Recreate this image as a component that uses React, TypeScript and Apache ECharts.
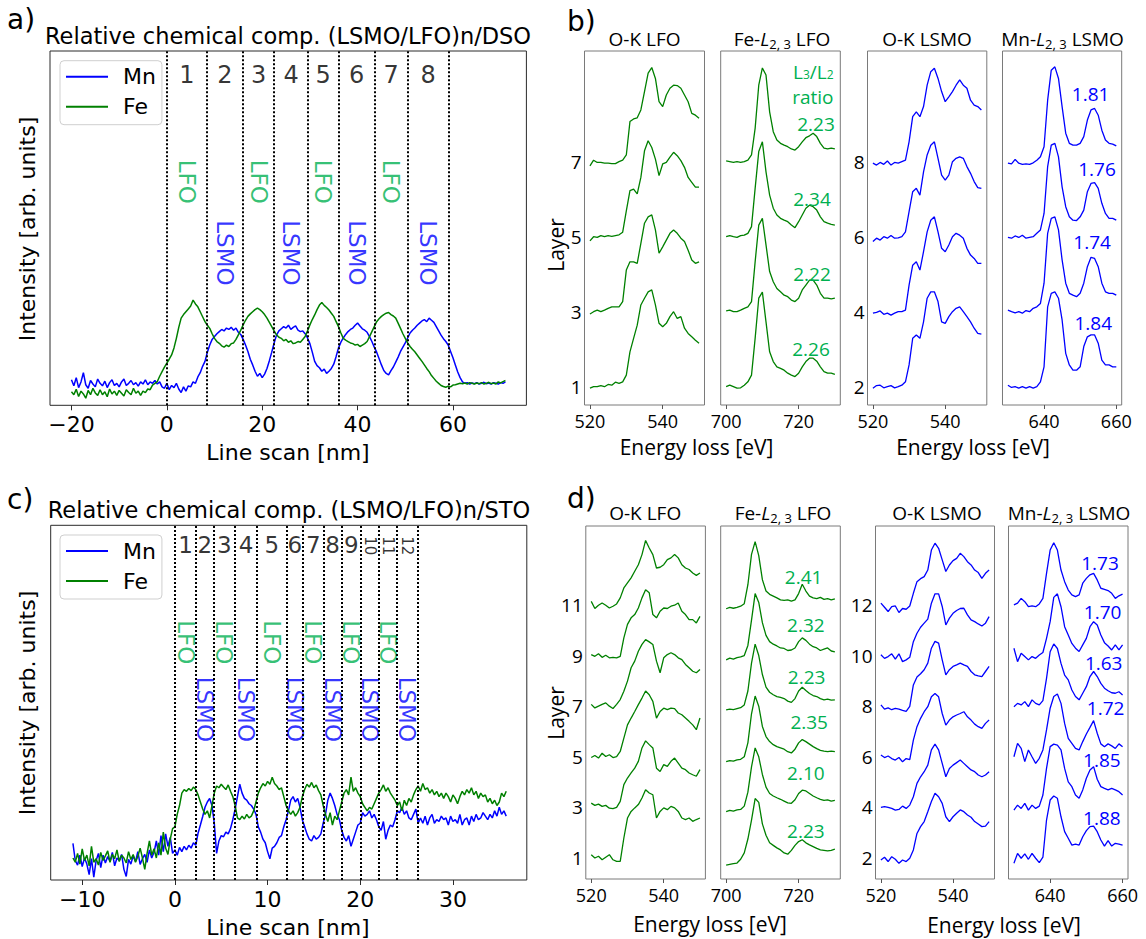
import React, { useEffect, useRef } from "react";
import * as echarts from "echarts";

// ---------- a) line scan (LSMO/LFO)n/DSO ----------
const aScanStart = -20;
const aScanStep = 0.5;
const aMn = [
  0.72, 0.55, 0.78, 0.5, 0.66, 0.92, 0.58, 0.48, 0.7, 0.6,
  0.52, 0.74, 0.62, 0.55, 0.68, 0.5, 0.64, 0.72, 0.56, 0.62,
  0.52, 0.66, 0.74, 0.56, 0.62, 0.7, 0.58, 0.64, 0.54, 0.66,
  0.6, 0.72, 0.58, 0.66, 0.62, 0.7, 0.6, 0.66, 0.52, 0.48,
  0.62, 0.44, 0.56, 0.5, 0.62, 0.46, 0.36, 0.52, 0.4, 0.55,
  0.52, 0.66, 0.62, 0.8, 0.92, 1.1, 1.24, 1.5, 1.7, 1.86,
  1.94, 2.02, 2.08, 2.14, 2.1, 2.18, 2.14, 2.2, 2.12, 2.18,
  2.06, 2.0, 1.86, 1.7, 1.52, 1.3, 1.14, 0.96, 0.82, 0.9,
  0.78, 0.88, 1.04, 1.26, 1.5, 1.76, 1.98, 2.1, 2.16, 2.22,
  2.18, 2.26, 2.14, 2.2, 2.24, 2.12, 2.08, 2.1, 2.02, 1.9,
  1.74, 1.5, 1.24, 1.12, 1.06, 0.96, 1.02, 0.9, 0.96, 1.04,
  1.16, 1.38, 1.62, 1.78, 1.9, 2.0, 2.08, 2.14, 2.18, 2.26,
  2.32, 2.24, 2.16, 2.12, 2.06, 1.94, 1.8, 1.64, 1.5, 1.32,
  1.14, 0.98, 0.9, 0.86, 0.98, 1.08, 1.22, 1.36, 1.52, 1.64,
  1.76, 1.9, 2.04, 2.12, 2.18, 2.26, 2.32, 2.38, 2.42, 2.36,
  2.46, 2.4, 2.34, 2.22, 2.1, 1.98, 1.88, 1.8, 1.7, 1.52,
  1.34, 1.14, 0.94, 0.78, 0.66, 0.62, 0.64, 0.6, 0.63, 0.61,
  0.64, 0.6, 0.62, 0.65, 0.61, 0.63, 0.6, 0.64, 0.62, 0.6,
  0.64, 0.62, 0.66,
];
const aFe = [
  0.38, 0.3, 0.45, 0.25, 0.4, 0.32, 0.2, 0.42, 0.3, 0.48,
  0.35, 0.28, 0.44, 0.3, 0.38, 0.24, 0.46, 0.32, 0.4, 0.28,
  0.42, 0.34, 0.26, 0.44, 0.36, 0.3, 0.48, 0.34, 0.4, 0.28,
  0.4, 0.36, 0.46, 0.44, 0.57, 0.62, 0.67, 0.82, 0.95, 1.08,
  1.19, 1.3, 1.42, 1.62, 1.89, 2.2, 2.46, 2.56, 2.64, 2.72,
  2.8, 2.97, 2.86, 2.78, 2.64, 2.5, 2.36, 2.26, 2.17, 2.02,
  1.89, 1.8, 1.75, 1.68, 1.64, 1.7, 1.66, 1.74, 1.76, 1.86,
  1.99, 2.12, 2.27, 2.4, 2.51, 2.58, 2.64, 2.7, 2.74, 2.7,
  2.64, 2.56, 2.46, 2.34, 2.22, 2.1, 1.99, 1.92, 1.89, 1.82,
  1.86, 1.78, 1.82, 1.74, 1.76, 1.8, 1.78, 1.86, 1.94, 2.1,
  2.27, 2.42, 2.55, 2.7, 2.83, 2.9, 2.82, 2.76, 2.69, 2.6,
  2.51, 2.36, 2.22, 2.04, 1.89, 1.84, 1.8, 1.76, 1.74, 1.7,
  1.72, 1.66, 1.7, 1.74, 1.8, 1.94, 2.08, 2.22, 2.36, 2.44,
  2.51, 2.56, 2.6, 2.62, 2.56, 2.52, 2.46, 2.32, 2.17, 2.02,
  1.89, 1.76, 1.66, 1.58, 1.51, 1.42, 1.33, 1.24, 1.14, 1.04,
  0.95, 0.84, 0.76, 0.68, 0.62, 0.56, 0.53, 0.51, 0.54, 0.52,
  0.57, 0.58, 0.6, 0.62, 0.61, 0.63, 0.6, 0.64, 0.62, 0.6,
  0.63, 0.61, 0.64, 0.6, 0.62, 0.65, 0.61, 0.63, 0.6, 0.66,
  0.63, 0.67, 0.7,
];
const aLayerBounds = [0, 8.4, 16.0, 22.5, 29.6, 36.0, 43.6, 50.5, 59.1];
const aTicks = [-20, 0, 20, 40, 60];

// ---------- c) line scan (LSMO/LFO)n/STO ----------
const cScanStart = -11;
const cScanStep = 0.25;
const cMn = [
  1.03, 0.55, 0.42, 0.7, 0.38, 0.62, 0.45, 0.15,
  0.6, 0.08, 0.55, 0.75, 0.35, 0.7, 0.48, 0.66,
  0.52, 0.78, 0.4, 0.62, 0.55, 0.72, 0.3, 0.1,
  0.58, 0.45, 0.68, 0.52, 0.8, 0.44, 0.6, 0.72,
  0.5, 0.85, 0.62, 0.78, 1.1, 0.7, 1.25, 0.8,
  1.3, 0.95, 1.2, 0.75, 0.85, 0.7, 0.92, 0.8,
  0.95, 0.85, 0.98, 0.9, 1.05, 0.98, 1.32, 1.55,
  1.79, 2.05, 2.2, 2.3, 2.1, 1.6, 0.75, 1.1,
  1.25, 1.22, 1.35, 1.3, 1.45, 1.7, 2.0, 2.35,
  2.7, 2.45, 2.3, 2.25, 2.15, 2.1, 2.0, 1.85,
  1.5, 1.35, 1.15, 1.05, 0.8, 0.6, 0.9, 0.95,
  1.05, 1.2, 1.25, 1.5, 1.7, 1.95, 2.25, 2.35,
  2.2, 2.3, 2.05, 1.7, 1.5, 1.3, 1.15, 1.1,
  1.25, 1.15, 1.2, 1.3, 1.6, 1.85, 2.25, 2.45,
  2.3, 2.1, 1.85, 1.7, 1.4, 1.2, 1.1, 1.25,
  0.95, 1.15, 1.35, 1.55, 1.6, 1.9, 1.8, 1.85,
  1.95, 1.75, 1.85, 1.7, 1.5, 1.4, 1.65, 1.15,
  1.4, 1.55, 1.5, 1.7, 1.95, 1.9, 2.05, 1.85,
  1.95, 1.75, 1.7, 1.85, 2.0, 1.6, 1.75, 1.6,
  1.8, 1.55, 1.75, 1.85, 1.6, 1.7, 1.65, 1.8,
  1.7, 1.75, 1.55, 1.8, 1.65, 1.7, 1.6, 1.85,
  1.55, 1.7, 1.75, 1.55, 1.8, 1.65, 1.85, 1.7,
  1.75, 1.9, 1.8, 1.7, 1.85, 1.75, 1.95, 1.8,
  2.05, 1.85, 1.95, 1.8,
];
const cFe = [
  0.62, 0.5, 0.75, 0.45, 0.88, 0.55, 0.7, 0.4,
  0.95, 0.5, 0.6, 0.42, 0.78, 0.55, 0.68, 0.82,
  0.5, 0.72, 0.6, 0.85, 0.52, 0.7, 0.62, 0.48,
  0.8, 0.58, 0.72, 0.5, 0.66, 0.9, 0.62, 0.3,
  0.75, 1.1, 0.7, 0.88, 0.62, 1.05, 0.7, 1.35,
  0.9, 0.72, 1.15, 1.45, 1.5, 1.85, 2.1, 2.45,
  2.55, 2.5, 2.58, 2.52, 2.62, 2.55, 2.4, 2.2,
  2.0, 1.85, 1.95, 1.75, 2.1, 2.45, 2.65, 2.6,
  2.7, 2.62, 2.55, 2.68, 2.5, 2.35, 2.1, 1.75,
  1.7, 1.8, 1.72, 1.85, 1.75, 1.8, 1.95, 2.2,
  2.45, 2.6, 2.72, 2.65, 2.78, 2.7, 2.9, 2.72,
  2.65, 2.55, 2.6, 2.35, 2.1, 1.95, 1.85, 1.95,
  1.8, 1.9, 2.05, 2.35, 2.55, 2.7, 2.62, 2.75,
  2.6, 2.68, 2.52, 2.4, 2.1, 1.85, 1.65, 1.9,
  1.55, 1.8, 1.7, 1.95, 2.2, 2.45, 2.55, 2.4,
  2.9, 2.5, 2.6, 2.45, 2.35, 2.15, 2.05, 1.95,
  2.05, 2.0, 2.15, 2.3, 2.45, 2.55, 2.68, 2.5,
  2.6, 2.45, 2.35, 2.25, 2.1, 2.2, 1.95, 2.25,
  2.1, 2.3, 2.2, 2.4, 2.55, 2.65, 2.5, 2.72,
  2.55, 2.6, 2.45, 2.55, 2.4, 2.5, 2.35, 2.45,
  2.3, 2.45, 2.35, 2.2, 2.4, 2.3, 2.15, 2.35,
  2.5, 2.4, 2.55, 2.45, 2.6, 2.4, 2.5, 2.3,
  2.45, 2.35, 2.4, 2.2, 2.3, 2.15, 2.25, 2.1,
  2.2, 2.45, 2.35, 2.5,
];
const cLayerBounds = [0, 2.3, 4.18, 6.5, 8.87, 12.06, 13.8, 16.07, 17.95, 20.1, 21.95, 23.95, 26.15];
const cTicks = [-10, 0, 10, 20, 30];

// ---------- EELS spectra (1 eV sampling) ----------
const okEnergyStart = 520;
const feEnergyStart = 700;
const mnEnergyStart = 630;
const okTicks = [520, 540];
const feTicks = [700, 720];
const mnTicks = [640, 660];

// b) DSO sample
const bLfoLayers = [7, 5, 3, 1];
const bLsmoLayers = [8, 6, 4, 2];
const bOkLfo7 = [-0.11, 0.04, -0.02, -0.02, -0.04, -0.04, -0.05, -0.05, 0, 0.04, 0.18, 1.07, 1.14, 1.17, 1.38, 1.87, 2.36, 2.51, 2.22, 1.6, 1.47, 1.78, 1.96, 2.04, 2.03, 1.96, 1.78, 1.6, 1.29, 1.24, 1.16];
const bOkLfo5 = [-0.11, 0, -0.02, 0.03, 0, 0.03, 0.01, 0.03, 0.05, 0.12, 0.69, 1.23, 1.27, 1.14, 1.58, 2.29, 2.56, 2.38, 2.07, 1.63, 1.94, 1.98, 2.12, 2.25, 2.16, 2.03, 1.85, 1.58, 1.45, 1.32, 1.32];
const bOkLfo3 = [-0.06, 0, 0.04, 0, 0.04, 0.09, 0.13, 0.13, 0.13, 0.27, 1.11, 1.33, 1.33, 1.29, 1.82, 2.36, 2.53, 2.58, 2.18, 1.56, 1.73, 1.91, 2.09, 2.18, 2.09, 1.96, 1.87, 1.64, 1.38, 1.29, 1.33];
const bOkLfo1 = [-0.04, 0, 0, 0.03, 0, 0.06, 0.04, 0.12, 0.09, 0.13, 0.31, 0.93, 1.29, 1.64, 2.18, 2.36, 2.53, 2.58, 2.18, 1.69, 1.6, 1.69, 1.87, 2.0, 1.82, 1.87, 1.56, 1.42, 1.33, 1.24, 1.16];
const bFe7 = [0.02, 0, -0.02, 0, -0.02, 0, 0.04, 0.18, 0.89, 2.04, 2.5, 2.31, 1.33, 0.8, 0.58, 0.49, 0.44, 0.4, 0.34, 0.31, 0.4, 0.53, 0.64, 0.69, 0.76, 0.67, 0.49, 0.36, 0.34, 0.36, 0.34];
const bFe5 = [0, 0.03, 0, -0.02, 0.03, 0.04, 0.09, 0.27, 1.29, 2.27, 2.53, 1.73, 1.11, 0.76, 0.58, 0.49, 0.44, 0.4, 0.31, 0.24, 0.4, 0.58, 0.76, 0.84, 0.8, 0.71, 0.53, 0.4, 0.36, 0.33, 0.31];
const bFe3 = [0.02, 0.04, 0, 0, 0.04, 0.09, 0.13, 0.27, 1.33, 2.31, 2.49, 1.78, 1.07, 0.8, 0.62, 0.53, 0.44, 0.4, 0.31, 0.27, 0.36, 0.58, 0.71, 0.84, 0.84, 0.71, 0.49, 0.36, 0.36, 0.34, 0.36];
const bFe1 = [0, 0.04, 0, -0.04, -0.03, 0.04, 0.13, 0.31, 1.29, 2.36, 2.52, 1.73, 0.93, 0.67, 0.53, 0.49, 0.44, 0.36, 0.31, 0.27, 0.36, 0.53, 0.67, 0.76, 0.76, 0.68, 0.53, 0.4, 0.36, 0.36, 0.33];
const bOkLsmo8 = [-0.04, -0.09, -0.02, -0.07, 0.02, -0.09, -0.02, -0.04, 0, 0.04, 0.53, 1.2, 1.33, 1.2, 1.47, 2.04, 2.4, 2.49, 2.22, 1.87, 1.6, 1.73, 1.87, 2.04, 2.18, 2.04, 1.96, 1.64, 1.51, 1.47, 1.38];
const bOkLsmo6 = [-0.13, -0.04, -0.09, 0, -0.04, 0.03, -0.04, -0.03, 0, 0.13, 0.67, 1.2, 1.29, 1.11, 1.73, 2.18, 2.44, 2.53, 2.09, 1.64, 1.51, 1.64, 2.0, 2.09, 2.13, 2.09, 1.87, 1.69, 1.47, 1.31, 1.29];
const bOkLsmo4 = [-0.04, -0.02, 0.02, -0.07, -0.04, -0.09, -0.04, 0, 0, 0.04, 0.71, 1.24, 1.33, 1.11, 1.6, 2.13, 2.44, 2.53, 2.13, 1.69, 1.6, 1.78, 2.0, 2.09, 2.04, 1.96, 1.69, 1.51, 1.42, 1.29, 1.29];
const bOkLsmo2 = [-0.04, 0.03, 0.04, -0.03, 0, 0.03, -0.03, 0, 0.04, 0.13, 0.58, 1.29, 1.38, 1.29, 1.73, 2.36, 2.53, 2.53, 2.27, 1.73, 1.69, 1.87, 2.0, 2.09, 2.13, 2.0, 1.87, 1.73, 1.56, 1.42, 1.4];
const bMn8 = [-0.04, -0.06, 0.06, -0.04, -0.07, -0.06, -0.07, -0.03, 0.04, 0.13, 0.4, 1.64, 2.44, 2.53, 2.22, 1.47, 0.76, 0.49, 0.44, 0.44, 0.49, 0.67, 1.11, 1.38, 1.42, 1.24, 0.84, 0.58, 0.49, 0.47, 0.42];
const bMn6 = [-0.02, -0.04, 0.02, -0.02, 0.04, -0.04, -0.02, 0, 0.09, 0.18, 0.62, 1.87, 2.44, 2.49, 2.13, 1.33, 0.8, 0.53, 0.44, 0.43, 0.53, 0.71, 1.2, 1.42, 1.44, 1.29, 0.89, 0.62, 0.49, 0.49, 0.44];
const bMn4 = [0.04, 0, -0.03, 0, -0.04, 0.03, 0, 0.09, 0.13, 0.22, 0.76, 2.09, 2.49, 2.53, 2.18, 1.38, 0.76, 0.49, 0.44, 0.4, 0.49, 0.76, 1.2, 1.45, 1.42, 1.2, 0.76, 0.53, 0.49, 0.49, 0.44];
const bMn2 = [0.04, -0.02, 0, -0.04, 0, -0.04, 0, -0.04, 0, 0.13, 0.53, 2.13, 2.49, 2.53, 2.36, 1.78, 0.89, 0.58, 0.44, 0.44, 0.53, 1.07, 1.33, 1.38, 1.38, 1.16, 0.71, 0.58, 0.58, 0.53, 0.53];
const bFeRatio = [2.23, 2.34, 2.22, 2.26];
const bMnRatio = [1.81, 1.76, 1.74, 1.84];

// d) STO sample
const dLfoLayers = [11, 9, 7, 5, 3, 1];
const dLsmoLayers = [12, 10, 8, 6, 4, 2];
const dOkLfo11 = [0.14, -0.14, -0.01, 0.08, -0.01, -0.12, -0.05, 0.04, 0.28, 0.67, 0.87, 1.07, 1.33, 1.59, 1.99, 2.55, 2.25, 1.99, 1.46, 1.49, 1.59, 1.79, 1.86, 1.99, 1.86, 1.59, 1.46, 1.4, 1.26, 1.17, 1.26];
const dOkLfo9 = [0.04, -0.03, 0.07, -0.07, 0.01, -0.09, -0.07, -0.09, -0.03, 0.7, 1.23, 1.49, 1.62, 1.88, 2.28, 2.6, 2.48, 1.62, 1.49, 1.75, 1.88, 1.86, 1.95, 1.99, 2.08, 1.75, 1.62, 1.42, 1.42, 1.29, 1.55];
const dOkLfo7 = [0.07, -0.07, 0, 0.07, 0.13, 0, -0.09, 0.07, 0.26, 0.59, 0.99, 1.52, 1.78, 2.17, 2.44, 2.63, 2.54, 2.44, 1.78, 1.32, 1.91, 2.04, 2.11, 2.04, 1.91, 1.84, 1.65, 1.52, 1.38, 1.32, 1.45];
const dOkLfo5 = [-0.03, 0.05, -0.05, 0.14, 0.01, 0.08, -0.03, 0.01, 0.21, 0.74, 1.26, 1.53, 1.79, 2.06, 2.32, 2.6, 2.45, 2.19, 1.53, 1.79, 1.92, 1.86, 1.92, 1.9, 1.73, 1.66, 1.53, 1.4, 1.26, 1.07, 1.53];
const dOkLfo3 = [0.17, 0.08, 0.13, 0.04, 0.08, -0.03, -0.05, 0, 0.24, 0.9, 1.16, 1.36, 1.55, 1.82, 2.35, 2.63, 2.48, 2.35, 1.55, 1.42, 1.69, 1.62, 1.82, 1.95, 1.75, 1.55, 1.49, 1.36, 1.29, 1.23, 1.49];
const dOkLfo1 = [0.13, 0, 0.07, -0.07, 0.03, 0.13, -0.07, -0.13, -0.13, 0.79, 1.58, 1.84, 1.98, 2.11, 2.37, 2.7, 2.57, 2.5, 1.58, 1.84, 1.98, 1.91, 2.04, 1.98, 1.84, 1.58, 1.52, 1.58, 1.45, 1.52, 1.58];
const dFe11 = [-0.15, -0.1, -0.13, -0.1, -0.05, 0.05, 0.8, 2.0, 2.5, 1.95, 1.0, 0.55, 0.42, 0.35, 0.28, 0.2, 0.18, 0.2, 0.15, 0.2, 0.45, 0.82, 0.55, 0.35, 0.28, 0.25, 0.3, 0.22, 0.25, 0.2, 0.24];
const dFe9 = [-0.17, -0.1, -0.14, -0.08, -0.05, 0, 0.4, 1.4, 2.45, 2.1, 1.3, 0.8, 0.55, 0.45, 0.38, 0.3, 0.28, 0.2, 0.22, 0.3, 0.55, 0.7, 0.6, 0.45, 0.35, 0.3, 0.2, 0.25, 0.3, 0.18, 0.15];
const dFe7 = [-0.15, -0.12, -0.14, -0.1, -0.06, 0.05, 0.6, 1.7, 2.45, 2.0, 1.25, 0.75, 0.55, 0.45, 0.38, 0.35, 0.3, 0.2, 0.15, 0.3, 0.6, 0.75, 0.62, 0.5, 0.42, 0.38, 0.3, 0.25, 0.28, 0.24, 0.25];
const dFe5 = [-0.19, -0.15, -0.17, -0.12, -0.1, 0, 0.55, 1.7, 2.4, 2.0, 1.2, 0.8, 0.6, 0.48, 0.4, 0.35, 0.3, 0.2, 0.15, 0.3, 0.55, 0.68, 0.6, 0.5, 0.4, 0.32, 0.25, 0.22, 0.2, 0.22, 0.2];
const dFe3 = [-0.17, -0.12, -0.15, -0.1, -0.08, 0.05, 0.6, 1.6, 2.35, 2.0, 1.3, 0.8, 0.55, 0.45, 0.38, 0.32, 0.25, 0.18, 0.16, 0.3, 0.55, 0.68, 0.65, 0.55, 0.45, 0.38, 0.32, 0.28, 0.3, 0.25, 0.28];
const dFe1 = [-0.28, -0.25, -0.22, -0.2, -0.05, 0.2, 0.75, 1.5, 2.35, 2.2, 1.35, 0.9, 0.6, 0.5, 0.4, 0.32, 0.2, 0.15, 0.3, 0.5, 0.65, 0.72, 0.6, 0.52, 0.45, 0.38, 0.32, 0.3, 0.28, 0.3, 0.35];
const dOkLsmo12 = [0.07, -0.09, -0.26, -0.07, -0.04, -0.3, -0.14, -0.17, -0.04, 0.46, 0.92, 1.04, 1.12, 1.38, 2.17, 2.44, 2.24, 1.78, 1.32, 1.58, 1.75, 1.84, 2.04, 1.91, 1.71, 1.58, 1.38, 1.28, 1.05, 1.25, 1.38];
const dOkLsmo10 = [0.03, -0.11, -0.04, 0.07, -0.14, 0.07, -0.24, -0.17, -0.07, 0.55, 0.88, 1.12, 1.28, 1.44, 2.07, 2.44, 2.44, 1.94, 1.21, 1.48, 1.67, 1.78, 1.86, 1.87, 1.61, 1.41, 1.34, 1.25, 1.17, 1.28, 1.54];
const dOkLsmo8 = [0.05, -0.12, -0.07, -0.14, -0.09, -0.12, -0.17, -0.21, -0.01, 0.84, 1.15, 1.28, 1.44, 1.7, 2.29, 2.56, 2.49, 1.83, 1.24, 1.44, 1.57, 1.63, 1.7, 1.63, 1.57, 1.37, 1.24, 1.2, 1.17, 1.37, 1.57];
const dOkLsmo6 = [0.07, -0.03, 0.03, -0.07, -0.13, -0.03, -0.2, -0.07, -0.11, 0.66, 1.19, 1.52, 1.78, 1.98, 2.37, 2.5, 2.37, 1.71, 1.25, 1.45, 1.58, 1.65, 1.71, 1.78, 1.58, 1.45, 1.29, 1.19, 1.12, 1.32, 1.45];
const dOkLsmo4 = [0, 0.03, 0, -0.04, -0.11, -0.08, 0.05, -0.04, 0.09, 0.42, 0.95, 1.21, 1.41, 1.67, 2.27, 2.5, 2.27, 1.74, 1.21, 1.54, 1.67, 1.77, 1.87, 1.74, 1.61, 1.48, 1.41, 1.28, 1.21, 1.28, 1.41];
const dOkLsmo2 = [-0.08, 0.03, -0.14, 0.05, -0.05, -0.21, -0.08, -0.14, -0.01, 0.32, 0.97, 1.24, 1.44, 1.83, 2.23, 2.56, 2.42, 2.16, 1.63, 1.44, 1.63, 1.77, 1.9, 1.83, 1.7, 1.61, 1.44, 1.34, 1.24, 1.26, 1.44];
const dMn12 = [0, 0.07, 0.26, 0.13, -0.07, -0.04, -0.07, 0.04, 0.26, 1.25, 2.17, 2.46, 2.17, 1.38, 0.92, 0.59, 0.4, 0.33, 0.4, 0.86, 1.05, 1.19, 1.25, 0.99, 0.66, 0.62, 0.57, 0.46, 0.26, 0.36, 0.43];
const dMn10 = [0.29, -0.24, 0.09, -0.04, -0.17, -0.04, -0.11, 0.02, 0.12, 0.68, 1.34, 2.3, 2.44, 1.93, 1.14, 0.81, 0.48, 0.29, 0.16, 0.42, 0.68, 1.14, 1.34, 1.21, 0.81, 0.51, 0.38, 0.22, 0.42, 0.22, 0.42];
const dMn8 = [-0.02, 0.11, 0.05, 0.18, -0.02, 0.25, 0.11, 0.05, 0.22, 1.1, 2.15, 2.46, 2.28, 1.69, 1.23, 1.04, 0.64, 0.38, 0.25, 0.51, 0.77, 1.17, 1.37, 1.17, 0.9, 0.71, 0.61, 0.53, 0.51, 0.57, 0.44];
const dMn6 = [0, 0.53, 0.33, -0.19, 0.27, 0, -0.26, -0.06, 0.27, 1.06, 1.92, 2.38, 2.48, 2.11, 1.32, 0.73, 0.53, 0.33, 0.27, 0.6, 0.9, 1.16, 1.43, 0.93, 0.51, 0.4, 0.51, 0.43, 0.33, 0.51, 0.4];
const dMn4 = [-0.11, 0.09, -0.04, 0.16, -0.11, 0.09, -0.04, 0.05, 0.49, 1.54, 2.4, 2.5, 2.46, 2.27, 1.54, 1.01, 0.82, 0.49, 0.36, 0.69, 1.15, 1.48, 1.61, 1.11, 0.82, 0.75, 0.69, 0.75, 0.69, 0.62, 0.49];
const dMn2 = [-0.21, 0.18, -0.01, 0.16, -0.05, 0.18, -0.01, -0.18, 0.03, 1.5, 2.29, 2.45, 2.36, 1.63, 1.04, 0.78, 0.51, 0.55, 0.51, 0.84, 1.08, 1.24, 1.26, 1.04, 0.71, 0.47, 0.69, 0.47, 0.58, 0.55, 0.51];
const dFeRatio = [2.41, 2.32, 2.23, 2.35, 2.1, 2.23];
const dMnRatio = [1.73, 1.7, 1.63, 1.72, 1.85, 1.88];

// ---------- styling / layout ----------
const FONT_A = "DejaVu Sans";
const FONT_B = "Open Sans";
const BLUE = "#0000ff";
const GREEN = "#008000";
const LBL_GREEN = "#00b050";

const bFeRatioPos = [[816, 124], [812, 199], [812, 274.3], [811, 349.3]];
const bMnRatioPos = [[1090.6, 94], [1097, 169], [1092.1, 241.7], [1093.3, 323.3]];
const dFeRatioPos = [[803.6, 576.7], [805.9, 625], [806.6, 676.7], [809.2, 721.7], [805.9, 772.7], [805.9, 831]];
const dMnRatioPos = [[1100, 563.3], [1102.6, 611.7], [1103.7, 663.3], [1105.6, 708.3], [1101.9, 760], [1101.9, 818.3]];

function minusFmt(v: number) {
  return v < 0 ? "\u2212" + Math.abs(v) : String(v);
}

function buildOption() {
  const grid: any[] = [];
  const xAxis: any[] = [];
  const yAxis: any[] = [];
  const series: any[] = [];
  const graphic: any[] = [];

  const addPanel = (g: any, xa: any, ya: any) => {
    const i = grid.length;
    grid.push(g);
    xAxis.push({ ...xa, gridIndex: i });
    yAxis.push({ ...ya, gridIndex: i });
    return i;
  };

  const scan = (p: any) => {
    const i = addPanel(
      { left: p.left, top: p.top, width: p.width, height: p.height, show: true, borderColor: "#2a2a2a", borderWidth: 1, backgroundColor: "transparent" },
      {
        type: "value", min: p.xmin, max: p.xmax,
        axisLine: { show: false, onZero: false }, splitLine: { show: false },
        axisTick: { show: true, customValues: p.ticks, length: 5, lineStyle: { color: "#2a2a2a" } },
        axisLabel: { show: true, customValues: p.ticks, formatter: minusFmt, fontSize: 22, fontFamily: FONT_A, color: "#000", margin: 8 },
      },
      { type: "value", min: 0, max: 10, show: false, splitLine: { show: false } }
    );
    series.push({
      type: "line", name: "Mn", xAxisIndex: i, yAxisIndex: i, showSymbol: false, symbol: "none", silent: true,
      lineStyle: { color: BLUE, width: 1.5 }, itemStyle: { color: BLUE },
      data: p.mn.map((v: number, k: number) => [p.start + k * p.step, v]),
      markLine: {
        silent: true, symbol: ["none", "none"], label: { show: false },
        lineStyle: { type: "dotted", color: "#000", width: 2 },
        emphasis: { disabled: true },
        data: p.bounds.map((b: number) => ({ xAxis: b })),
      },
    });
    series.push({
      type: "line", name: "Fe", xAxisIndex: i, yAxisIndex: i, showSymbol: false, symbol: "none", silent: true,
      lineStyle: { color: GREEN, width: 1.5 }, itemStyle: { color: GREEN },
      data: p.fe.map((v: number, k: number) => [p.start + k * p.step, v]),
    });
    const mids = p.bounds.slice(0, -1).map((b: number, k: number) => (b + p.bounds[k + 1]) / 2);
    series.push({
      type: "scatter", xAxisIndex: i, yAxisIndex: i, symbolSize: 1, silent: true,
      itemStyle: { color: "rgba(0,0,0,0)" },
      label: { show: true, position: "inside", formatter: "{b}", fontSize: p.numSize, fontFamily: FONT_A, color: "#000" },
      data: mids.map((m: number, k: number) => ({
        value: [m, k >= 9 ? p.numYRot : p.numY],
        name: String(k + 1),
        label: k >= 9 ? { rotate: -90, fontSize: 15 } : { rotate: 0 },
      })),
    });
    series.push({
      type: "scatter", xAxisIndex: i, yAxisIndex: i, symbolSize: 1, silent: true,
      itemStyle: { color: "rgba(0,0,0,0)" },
      label: { show: true, position: "inside", formatter: "{b}", fontSize: 23, fontFamily: FONT_A, rotate: -90 },
      data: mids.map((m: number, k: number) => ({
        value: [m, k % 2 === 0 ? p.lfoY : p.lsmoY],
        name: k % 2 === 0 ? "LFO" : "LSMO",
        label: { color: k % 2 === 0 ? LBL_GREEN : BLUE },
      })),
    });
  };

  scan({ left: 50, top: 51, width: 476.4, height: 354.3, xmin: -24.5, xmax: 75.4, ticks: aTicks, start: aScanStart, step: aScanStep, mn: aMn, fe: aFe, bounds: aLayerBounds, numY: 9.32, numYRot: 9.32, numSize: 24, lfoY: 6.31, lsmoY: 4.3 });
  scan({ left: 50.7, top: 525.3, width: 476.1, height: 354.7, xmin: -13.4, xmax: 37.97, ticks: cTicks, start: cScanStart, step: cScanStep, mn: cMn, fe: cFe, bounds: cLayerBounds, numY: 9.44, numYRot: 9.42, numSize: 23, lfoY: 6.7, lsmoY: 4.81 });

  const spec = (p: any) => {
    const i = addPanel(
      { left: p.left, top: p.top, width: p.width, height: p.height, show: true, borderColor: "#7a7a7a", borderWidth: 1, backgroundColor: "transparent" },
      {
        type: "value", min: p.xmin, max: p.xmax,
        axisLine: { show: false, onZero: false }, splitLine: { show: false },
        axisTick: { show: true, customValues: p.xticks, length: 4, lineStyle: { color: "#555" } },
        axisLabel: { show: true, customValues: p.xticks, fontSize: 18, fontFamily: FONT_B, color: "#000", margin: 7 },
      },
      {
        type: "value", min: p.ymin, max: p.ymax,
        axisLine: { show: false, onZero: false }, splitLine: { show: false }, axisTick: { show: false },
        axisLabel: p.ylabels
          ? { show: true, customValues: p.ylabels, fontSize: 19, fontFamily: FONT_B, color: "#000", margin: 3 }
          : { show: false },
      }
    );
    p.spectra.forEach((vals: number[], k: number) => {
      series.push({
        type: "line", xAxisIndex: i, yAxisIndex: i, showSymbol: false, symbol: "none", silent: true,
        lineStyle: { color: p.color, width: 1.3 }, itemStyle: { color: p.color },
        data: vals.map((v, j) => [p.e0 + j, p.layers[k] + v]),
      });
    });
  };

  const bTop = 51, bH = 354;
  spec({ left: 584.5, top: bTop, width: 120, height: bH, xmin: 518.5, xmax: 551.5, xticks: okTicks, ymin: 0.512, ymax: 9.952, ylabels: [1, 3, 5, 7], e0: okEnergyStart, layers: bLfoLayers, spectra: [bOkLfo7, bOkLfo5, bOkLfo3, bOkLfo1], color: GREEN });
  spec({ left: 720.7, top: bTop, width: 119.6, height: bH, xmin: 698.5, xmax: 731.5, xticks: feTicks, ymin: 0.512, ymax: 9.952, ylabels: null, e0: feEnergyStart, layers: bLfoLayers, spectra: [bFe7, bFe5, bFe3, bFe1], color: GREEN });
  spec({ left: 867.5, top: bTop, width: 119.3, height: bH, xmin: 518.5, xmax: 551.5, xticks: okTicks, ymin: 1.512, ymax: 10.952, ylabels: [2, 4, 6, 8], e0: okEnergyStart, layers: bLsmoLayers, spectra: [bOkLsmo8, bOkLsmo6, bOkLsmo4, bOkLsmo2], color: BLUE });
  spec({ left: 1002.5, top: bTop, width: 119.2, height: bH, xmin: 628.5, xmax: 661.5, xticks: mnTicks, ymin: 1.512, ymax: 10.952, ylabels: null, e0: mnEnergyStart, layers: bLsmoLayers, spectra: [bMn8, bMn6, bMn4, bMn2], color: BLUE });

  const dTop = 526, dH = 353;
  spec({ left: 585.8, top: dTop, width: 119.6, height: dH, xmin: 518.5, xmax: 551.5, xticks: okTicks, ymin: 0.17, ymax: 14.12, ylabels: [1, 3, 5, 7, 9, 11], e0: okEnergyStart, layers: dLfoLayers, spectra: [dOkLfo11, dOkLfo9, dOkLfo7, dOkLfo5, dOkLfo3, dOkLfo1], color: GREEN });
  spec({ left: 720.7, top: dTop, width: 119.6, height: dH, xmin: 698.5, xmax: 731.5, xticks: feTicks, ymin: 0.17, ymax: 14.12, ylabels: null, e0: feEnergyStart, layers: dLfoLayers, spectra: [dFe11, dFe9, dFe7, dFe5, dFe3, dFe1], color: GREEN });
  spec({ left: 875.5, top: dTop, width: 119, height: dH, xmin: 518.5, xmax: 551.5, xticks: okTicks, ymin: 1.17, ymax: 15.12, ylabels: [2, 4, 6, 8, 10, 12], e0: okEnergyStart, layers: dLsmoLayers, spectra: [dOkLsmo12, dOkLsmo10, dOkLsmo8, dOkLsmo6, dOkLsmo4, dOkLsmo2], color: BLUE });
  spec({ left: 1008.5, top: dTop, width: 119.5, height: dH, xmin: 628.5, xmax: 661.5, xticks: mnTicks, ymin: 1.17, ymax: 15.12, ylabels: null, e0: mnEnergyStart, layers: dLsmoLayers, spectra: [dMn12, dMn10, dMn8, dMn6, dMn4, dMn2], color: BLUE });

  // ---------- texts ----------
  const T = (x: number, y: number, text: string, size: number, family: string, o: any = {}) => ({
    type: "text", x, y, rotation: o.rot || 0, silent: true, z: 100,
    style: {
      text, fontSize: size, fontFamily: family, fill: o.fill || "#000",
      align: o.align || "center", verticalAlign: "middle", rich: o.rich, lineHeight: o.lh,
    },
  });
  const subRich = (fill: string, size: number, sub: number, fam: string, lh: number) => ({
    r: { fontSize: size, fontFamily: fam, fill, lineHeight: lh, verticalAlign: "middle" },
    i: { fontSize: size, fontFamily: fam, fill, fontStyle: "italic", lineHeight: lh, verticalAlign: "middle" },
    s: { fontSize: sub, fontFamily: fam, fill, lineHeight: sub, verticalAlign: "bottom" },
  });

  graphic.push(T(7, 19, "a)", 28, FONT_A, { align: "left" }));
  graphic.push(T(7, 499, "c)", 28, FONT_A, { align: "left" }));
  graphic.push(T(567, 21, "b)", 28, FONT_A, { align: "left" }));
  graphic.push(T(567, 498, "d)", 28, FONT_A, { align: "left" }));

  graphic.push(T(288, 36, "Relative chemical comp. (LSMO/LFO)n/DSO", 22.5, FONT_A));
  graphic.push(T(289, 510, "Relative chemical comp. (LSMO/LFO)n/STO", 22.5, FONT_A));
  graphic.push(T(288, 452, "Line scan [nm]", 22, FONT_A));
  graphic.push(T(288, 927, "Line scan [nm]", 22, FONT_A));
  graphic.push(T(27, 229, "Intensity [arb. units]", 22, FONT_A, { rot: Math.PI / 2 }));
  graphic.push(T(27, 703, "Intensity [arb. units]", 22, FONT_A, { rot: Math.PI / 2 }));

  const titlesB: [number, number][] = [[644.5, 39], [782, 39], [927, 39], [1062.5, 39]];
  const titlesD: [number, number][] = [[645.2, 513], [783, 513], [937, 513], [1069, 513]];
  [titlesB, titlesD].forEach((tt) => {
    graphic.push(T(tt[0][0], tt[0][1], "O-K LFO", 19, FONT_B));
    graphic.push(T(tt[1][0], tt[1][1], "{r|Fe-}{i|L}{s|2, 3}{r| LFO}", 19, FONT_B, { rich: subRich("#000", 19, 13, FONT_B, 22) }));
    graphic.push(T(tt[2][0], tt[2][1], "O-K LSMO", 19, FONT_B));
    graphic.push(T(tt[3][0], tt[3][1], "{r|Mn-}{i|L}{s|2, 3}{r| LSMO}", 19, FONT_B, { rich: subRich("#000", 19, 13, FONT_B, 22) }));
  });

  graphic.push(T(696.5, 447, "Energy loss [eV]", 21, FONT_B));
  graphic.push(T(973, 447, "Energy loss [eV]", 21, FONT_B));
  graphic.push(T(710, 923.5, "Energy loss [eV]", 21, FONT_B));
  graphic.push(T(1004, 925, "Energy loss [eV]", 21, FONT_B));
  graphic.push(T(556, 245, "Layer", 21, FONT_B, { rot: Math.PI / 2 }));
  graphic.push(T(556, 713, "Layer", 21, FONT_B, { rot: Math.PI / 2 }));

  graphic.push(T(833.5, 71.5, "{r|L}{s|3}{r|/L}{s|2}", 19, FONT_B, { align: "right", fill: LBL_GREEN, rich: subRich(LBL_GREEN, 19, 12, FONT_B, 18) }));
  graphic.push(T(833.5, 96.5, "ratio", 19, FONT_B, { align: "right", fill: LBL_GREEN, lh: 18 }));

  bFeRatio.forEach((r, k) => graphic.push(T(bFeRatioPos[k][0], bFeRatioPos[k][1], r.toFixed(2), 19, FONT_B, { fill: LBL_GREEN })));
  bMnRatio.forEach((r, k) => graphic.push(T(bMnRatioPos[k][0], bMnRatioPos[k][1], r.toFixed(2), 19, FONT_B, { fill: BLUE })));
  dFeRatio.forEach((r, k) => graphic.push(T(dFeRatioPos[k][0], dFeRatioPos[k][1], r.toFixed(2), 19, FONT_B, { fill: LBL_GREEN })));
  dMnRatio.forEach((r, k) => graphic.push(T(dMnRatioPos[k][0], dMnRatioPos[k][1], r.toFixed(2), 19, FONT_B, { fill: BLUE })));

  const legendBase = {
    data: ["Mn", "Fe"], orient: "vertical", left: 60,
    padding: [3, 6, 5, 6], itemGap: 4, itemWidth: 42, itemHeight: 2, icon: "rect",
    textStyle: { fontSize: 22, fontFamily: FONT_A, color: "#000", lineHeight: 26, padding: [0, 0, 0, 10] },
    borderColor: "#cfcfcf", borderWidth: 1, borderRadius: 4, backgroundColor: "#fff",
    selectedMode: false,
  };

  return {
    animation: false,
    backgroundColor: "#fff",
    grid, xAxis, yAxis, series, graphic,
    legend: [{ ...legendBase, top: 60.7 }, { ...legendBase, top: 535 }],
    tooltip: { show: false },
  };
}

export default function App() {
  const ref = useRef<HTMLDivElement>(null);
  useEffect(() => {
    const prevMargin = document.body.style.margin;
    document.body.style.margin = "0";
    const chart = echarts.init(ref.current!, null, { renderer: "svg" });
    chart.setOption(buildOption() as any);
    return () => {
      chart.dispose();
      document.body.style.margin = prevMargin;
    };
  }, []);
  return <div ref={ref} style={{ width: 1146, height: 939, background: "#fff" }} />;
}
